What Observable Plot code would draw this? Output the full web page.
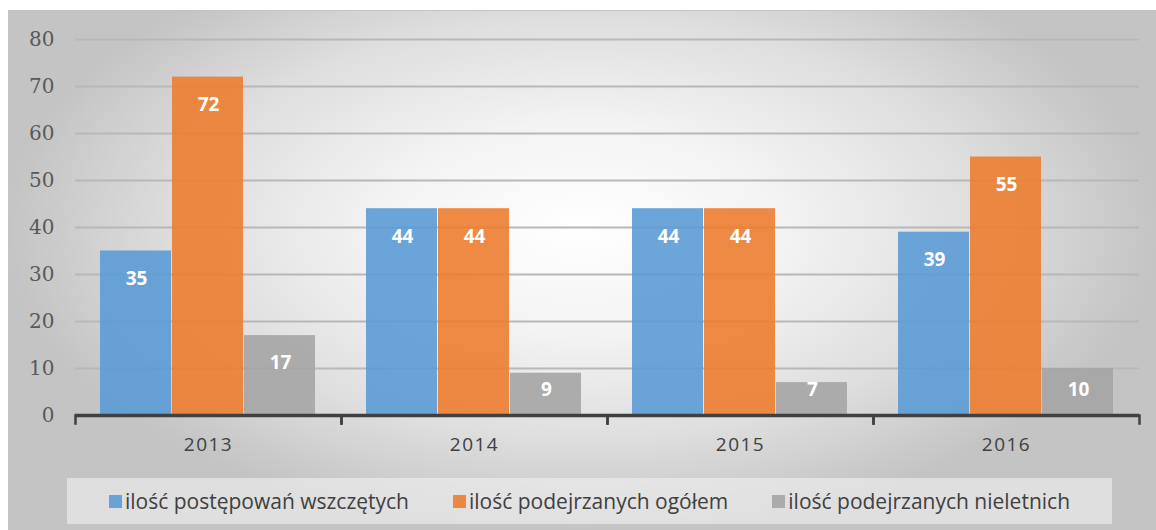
<!DOCTYPE html>
<html><head><meta charset="utf-8">
<script src="https://cdn.jsdelivr.net/npm/d3@7"></script>
<script src="https://cdn.jsdelivr.net/npm/@observablehq/plot@0.6"></script>
<style>
html,body{margin:0;padding:0;background:#fff;width:1156px;height:530px;overflow:hidden;}
#chart{position:absolute;left:8px;top:10px;width:1148px;height:520px;
  background:radial-gradient(ellipse farthest-side at 50% 42%, #ffffff 0%, #f3f3f3 35%, #dedede 70%, #c4c4c4 100%);
  box-shadow:inset 0 1px 0 #c4c4c4;}
#plot{position:absolute;left:0;top:0;}
#plot g[aria-label="fx-axis tick label"] text{letter-spacing:1.5px;}
#legend{position:absolute;left:59px;top:468px;width:1045px;height:46px;background:rgba(242,242,242,.6);
  display:flex;justify-content:center;align-items:center;gap:44px;
  font-family:"Open Sans",sans-serif;font-size:21px;color:#404040;}
.item{display:flex;align-items:center;white-space:nowrap;}
.sw{width:13px;height:13px;margin-right:3px;opacity:.9;}
</style>
</head><body>
<div id="chart"><div id="plot"></div><div id="legend"></div></div>
<script>
const years = ["2013", "2014", "2015", "2016"];
const seriesNames = ["ilość postępowań wszczętych", "ilość podejrzanych ogółem", "ilość podejrzanych nieletnich"];
const postepowania = [35, 44, 44, 39];
const podejrzaniOgolem = [72, 44, 44, 55];
const podejrzaniNieletni = [17, 9, 7, 10];
const seriesColors = ["#5b9bd5", "#ed7d31", "#a5a5a5"];
const yTicks = [0, 10, 20, 30, 40, 50, 60, 70, 80];

const seriesValues = [postepowania, podejrzaniOgolem, podejrzaniNieletni];
const rows = [];
years.forEach((year, i) => {
  seriesNames.forEach((s, j) => rows.push({year, series: s, value: seriesValues[j][i]}));
});

const plot = Plot.plot({
  width: 1148, height: 460,
  marginLeft: 65, marginRight: 16, marginTop: 29, marginBottom: 55,
  style: {background: "transparent", overflow: "visible"},
  fx: {domain: years, padding: 0, label: null},
  x: {domain: seriesNames, paddingInner: 0, paddingOuter: 0.335, axis: null},
  y: {domain: [0, 80], ticks: yTicks},
  color: {domain: seriesNames, range: seriesColors},
  marks: [
    Plot.gridY(yTicks, {stroke: "#b8b8b8", strokeOpacity: 1, strokeWidth: 2}),
    Plot.barY(rows, {fx: "year", x: "series", y: "value", fill: "series", fillOpacity: 0.9, insetRight: 1}),
    Plot.text(rows, {fx: "year", x: "series", y: d => Math.max(d.value - 5.9, 5.4), text: d => String(d.value),
      fill: "white", fontWeight: "bold", fontSize: 19, fontFamily: "Open Sans"}),
    Plot.ruleY([0], {stroke: "#404040", strokeWidth: 3.5}),
    Plot.frame({anchor: "left", stroke: "#404040", strokeWidth: 2.5, insetTop: 376, insetBottom: -8}),
    Plot.frame({anchor: "right", stroke: "#404040", strokeWidth: 2.5, insetTop: 376, insetBottom: -8}),
    Plot.axisY(yTicks, {tickSize: 0, tickPadding: 21, fontSize: 20, fontFamily: "DejaVu Serif", fill: "#595959", label: null}),
    Plot.axisFx({anchor: "bottom", tickSize: 0, tickPadding: 22, fontSize: 19, fontFamily: "Open Sans", fill: "#404040", label: null})
  ]
});
document.getElementById("plot").appendChild(plot);

const legend = document.getElementById("legend");
seriesNames.forEach((s, j) => {
  const it = document.createElement("div");
  it.className = "item";
  const sw = document.createElement("span");
  sw.className = "sw";
  sw.style.background = seriesColors[j];
  const tx = document.createElement("span");
  tx.textContent = s;
  it.appendChild(sw); it.appendChild(tx);
  legend.appendChild(it);
});
</script>
</body></html>
